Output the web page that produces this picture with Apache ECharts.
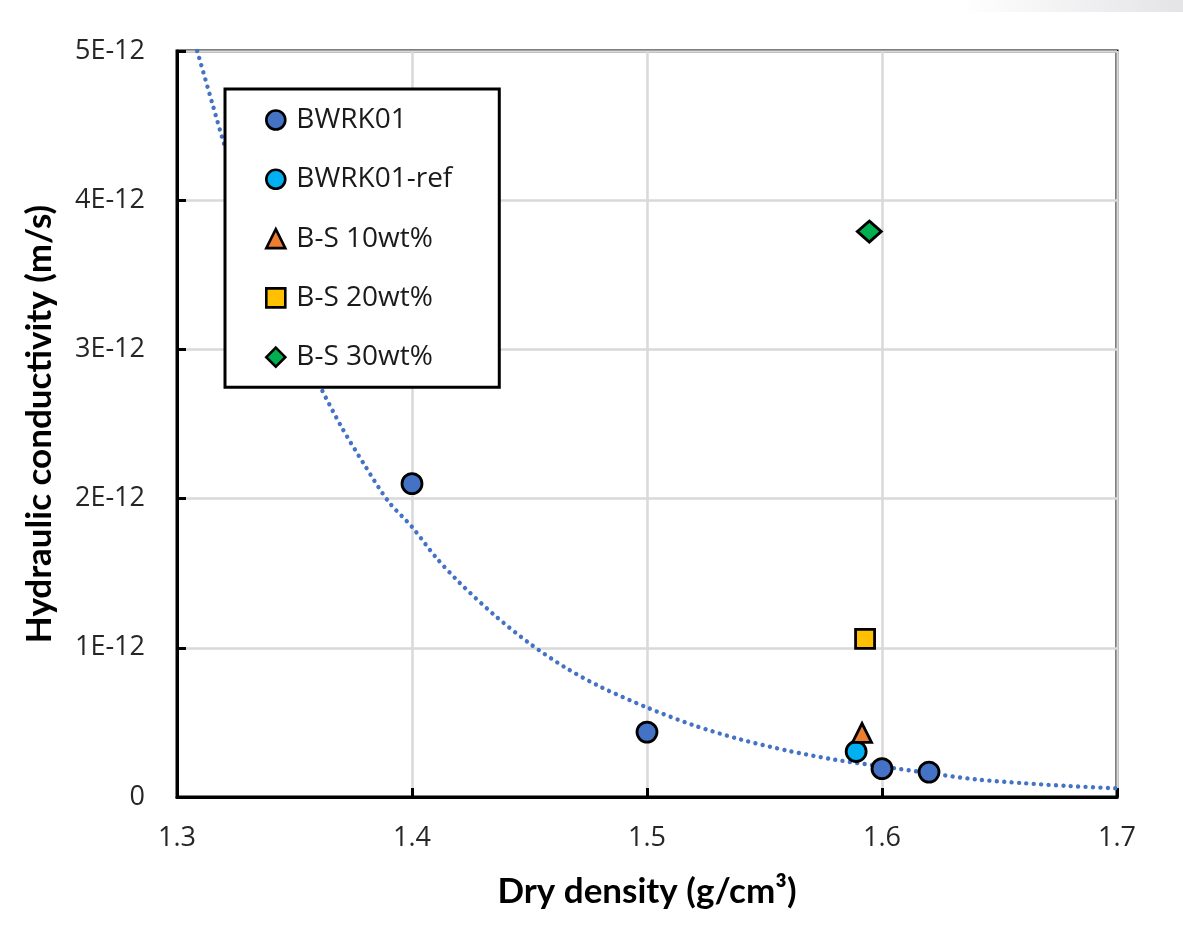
<!DOCTYPE html>
<html><head><meta charset="utf-8">
<script src="https://cdn.jsdelivr.net/npm/echarts@6/dist/echarts.min.js"></script>
<style>html,body{margin:0;padding:0;background:#fff}#c{width:1183px;height:949px}</style>
</head><body><div id="c"></div>
<script>
// y values are in units of 1E-12 m/s
const xTickLabels = ['1.3', '1.4', '1.5', '1.6', '1.7'];
const yTickLabels = ['0', '1E-12', '2E-12', '3E-12', '4E-12', '5E-12'];

const seriesNames = ['BWRK01', 'BWRK01-ref', 'B-S 10wt%', 'B-S 20wt%', 'B-S 30wt%'];
const bwrk01X = [1.40, 1.50, 1.60, 1.62];
const bwrk01Y = [2.10, 0.435, 0.19, 0.167];
const refX = [1.589];
const refY = [0.305];
const bs10X = [1.5915];
const bs10Y = [0.43];
const bs20X = [1.5928];
const bs20Y = [1.06];
const bs30X = [1.5946];
const bs30Y = [3.79];

// dotted trend line
const trendX = [1.3086, 1.315, 1.32, 1.33, 1.34, 1.35, 1.36, 1.37, 1.38, 1.39, 1.40, 1.41, 1.42, 1.435, 1.45, 1.465, 1.48, 1.50, 1.52, 1.54, 1.56, 1.58, 1.60, 1.62, 1.64, 1.66, 1.68, 1.70];
const trendY = [5.0, 4.65, 4.38, 3.90, 3.49, 3.11, 2.78, 2.48, 2.22, 1.98, 1.81, 1.61, 1.44, 1.22, 1.03, 0.87, 0.74, 0.60, 0.48, 0.385, 0.31, 0.25, 0.205, 0.16, 0.118, 0.093, 0.073, 0.058];

const pairs = (xs, ys) => xs.map((x, i) => [x, ys[i]]);

const chart = echarts.init(document.getElementById('c'), null, {renderer: 'canvas'});
const border = {borderColor: '#000', borderWidth: 2.8};
const tickFont = {fontFamily: 'Open Sans', fontSize: 27, color: '#262626'};

chart.setOption({
  backgroundColor: '#fff',
  animation: false,
  graphic: [{
    type: 'rect', left: 960, top: 0, shape: {width: 223, height: 12}, silent: true,
    style: {fill: new echarts.graphic.LinearGradient(0, 0, 1, 0, [
      {offset: 0, color: 'rgba(225,225,228,0)'}, {offset: 1, color: 'rgba(225,225,228,0.9)'}])}
  }],
  grid: {left: 177, right: 66, top: 51, bottom: 152, containLabel: false, outerBoundsMode: 'none',
    show: true, borderColor: '#000', borderWidth: 3, backgroundColor: 'transparent'},
  xAxis: {
    type: 'value', min: 1.3, max: 1.7, interval: 0.1,
    name: 'Dry density (g/cm³)', nameLocation: 'middle', nameGap: 77,
    nameTextStyle: {fontFamily: 'Lato', fontWeight: 'bold', fontSize: 35, color: '#000'},
    axisLine: {show: true, onZero: false, lineStyle: {color: '#000', width: 3}},
    axisTick: {show: true, inside: true, length: 9, lineStyle: {color: '#000', width: 3}},
    axisLabel: Object.assign({margin: 28, formatter: v => xTickLabels[Math.round((v - 1.3) * 10)]}, tickFont),
    splitLine: {show: true, lineStyle: {color: '#d9d9d9', width: 2.5}}
  },
  yAxis: {
    type: 'value', min: 0, max: 5, interval: 1,
    name: 'Hydraulic conductivity (m/s)', nameLocation: 'middle', nameGap: 120, nameRotate: 90,
    nameTextStyle: {fontFamily: 'Lato', fontWeight: 'bold', fontSize: 35, color: '#000'},
    axisLine: {show: true, lineStyle: {color: '#000', width: 3}},
    axisTick: {show: true, inside: true, length: 9, lineStyle: {color: '#000', width: 3}},
    axisLabel: Object.assign({margin: 32, formatter: v => yTickLabels[Math.round(v)]}, tickFont),
    splitLine: {show: true, lineStyle: {color: '#d9d9d9', width: 2.5}}
  },
  legend: {
    data: seriesNames, orient: 'vertical', left: 225, top: 89,
    padding: [16, 47, 15, 40], itemGap: 29.3, itemWidth: 19, itemHeight: 19,
    backgroundColor: '#fff', borderColor: '#000', borderWidth: 3,
    itemStyle: {borderWidth: 2.6, borderColor: '#000'},
    textStyle: {fontFamily: 'Open Sans', fontSize: 28, color: '#1a1a1a', lineHeight: 30, padding: [0, 0, 0, 6]},
    selectedMode: false
  },
  series: [
    {type: 'line', name: 'trend', data: pairs(trendX, trendY), smooth: 0.3, showSymbol: false, symbol: 'none',
      clip: true, z: 1, silent: true,
      lineStyle: {color: '#4472C4', width: 4.4, type: [0.01, 7.4], cap: 'round'}},
    {type: 'scatter', name: seriesNames[0], data: pairs(bwrk01X, bwrk01Y), symbol: 'circle', symbolSize: 20, z: 3,
      itemStyle: Object.assign({color: '#4472C4', opacity: 1}, border)},
    {type: 'scatter', name: seriesNames[1], data: pairs(refX, refY), symbol: 'circle', symbolSize: 20, z: 3,
      itemStyle: Object.assign({color: '#00B0F0', opacity: 1}, border)},
    {type: 'scatter', name: seriesNames[2], data: pairs(bs10X, bs10Y), symbol: 'triangle', symbolSize: 19, z: 3,
      itemStyle: Object.assign({color: '#ED7D31', opacity: 1}, border)},
    {type: 'scatter', name: seriesNames[3], data: pairs(bs20X, bs20Y), symbol: 'rect', symbolSize: 19, z: 3,
      itemStyle: Object.assign({color: '#FFC000', opacity: 1}, border)},
    {type: 'scatter', name: seriesNames[4], data: pairs(bs30X, bs30Y), symbol: 'diamond', symbolSize: [24, 21], z: 3,
      itemStyle: Object.assign({color: '#00B050', opacity: 1}, border)}
  ]
});
</script>
</body></html>
